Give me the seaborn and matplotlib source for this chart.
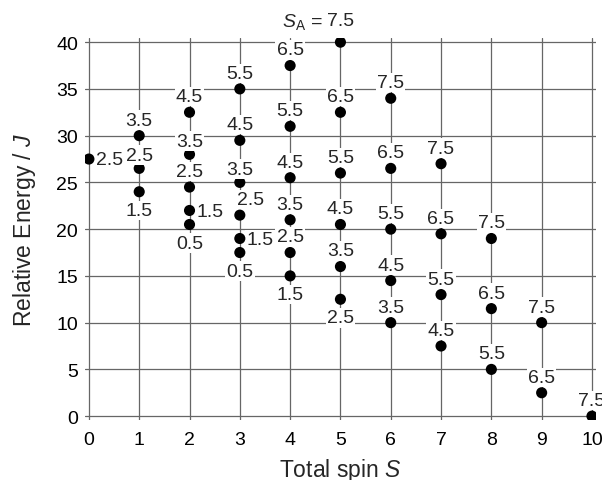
import matplotlib
matplotlib.use("Agg")
import matplotlib.pyplot as plt
import seaborn as sns
import pandas as pd

# ---- data ----
total_spin = [0,
              1, 1, 1,
              2, 2, 2, 2, 2,
              3, 3, 3, 3, 3, 3,
              4, 4, 4, 4, 4, 4,
              5, 5, 5, 5, 5, 5,
              6, 6, 6, 6, 6,
              7, 7, 7, 7,
              8, 8, 8,
              9, 9,
              10]
spin_a = [2.5,
          1.5, 2.5, 3.5,
          0.5, 1.5, 2.5, 3.5, 4.5,
          0.5, 1.5, 2.5, 3.5, 4.5, 5.5,
          1.5, 2.5, 3.5, 4.5, 5.5, 6.5,
          2.5, 3.5, 4.5, 5.5, 6.5, 7.5,
          3.5, 4.5, 5.5, 6.5, 7.5,
          4.5, 5.5, 6.5, 7.5,
          5.5, 6.5, 7.5,
          6.5, 7.5,
          7.5]
energy = [27.5,
          24, 26.5, 30,
          20.5, 22, 24.5, 28, 32.5,
          17.5, 19, 21.5, 25, 29.5, 35,
          15, 17.5, 21, 25.5, 31, 37.5,
          12.5, 16, 20.5, 26, 32.5, 40,
          10, 14.5, 20, 26.5, 34,
          7.5, 13, 19.5, 27,
          5, 11.5, 19,
          2.5, 10,
          0]
x_ticks = [0, 1, 2, 3, 4, 5, 6, 7, 8, 9, 10]
y_ticks = [0, 5, 10, 15, 20, 25, 30, 35, 40]
x_label = "Total spin $S$"
y_label = "Relative Energy / $J$"
top_prefix = "$S_{\\mathrm{A}}$ = "

# ---- layout of the value labels ----
# A=above, B=below, R=right, D=above-right, T=top label, C=above, close (covers dot)
label_pos = ["R",
             "B", "C", "A",
             "B", "R", "A", "C", "A",
             "B", "R", "D", "C", "A", "A",
             "B", "A", "A", "A", "A", "A",
             "B", "A", "A", "A", "A", "T",
             "A", "A", "A", "A", "A",
             "A", "A", "A", "A",
             "A", "A", "A",
             "A", "A",
             "A"]
offsets = {"A": (0, 11.2), "B": (0, -13.4), "R": (14.6, -0.5),
           "D": (7.4, 11.0), "T": (0, 15.5), "C": (0, 9.6)}

df = pd.DataFrame({"S": total_spin, "E": energy, "SA": spin_a})

sns.set_style("white")
plt.rcParams["font.family"] = ["Liberation Sans", "DejaVu Sans"]
plt.rcParams["mathtext.fontset"] = "custom"
plt.rcParams["mathtext.rm"] = "Liberation Sans"
plt.rcParams["mathtext.it"] = "Liberation Sans:italic"

fig = plt.figure(figsize=(6.02, 4.81), dpi=100)
ax = fig.add_axes([0.141, 0.125, 0.849, 0.793])

sns.scatterplot(data=df, x="S", y="E", ax=ax, color="black", s=64,
                edgecolor="none", linewidth=0, zorder=3, legend=False)

bbox = dict(boxstyle="square,pad=0.06", facecolor="white", edgecolor="none")
lab_fs = 14
for sx, e, sa, pos in zip(total_spin, energy, spin_a, label_pos):
    dx, dy = offsets[pos]
    txt = f"{sa:.1f}"
    if pos == "T":
        ax.annotate(txt, (sx, e), xytext=(dx, dy), textcoords="offset points",
                    ha="center", va="center", fontsize=lab_fs, bbox=bbox, zorder=2)
        ax.annotate(top_prefix, (sx, e), xytext=(dx - 12.5, dy), textcoords="offset points",
                    ha="right", va="center", fontsize=lab_fs, zorder=2)
        continue
    ax.annotate(txt, (sx, e), xytext=(dx, dy), textcoords="offset points",
                ha="center", va="center", fontsize=lab_fs, bbox=bbox,
                zorder=4 if pos == "C" else 2)

ax.set_xlim(-0.08, 10.08)
ax.set_ylim(-0.4, 40.4)
ax.set_xticks(x_ticks)
ax.set_yticks(y_ticks)
ax.grid(True, color="#666666", linewidth=0.9)
ax.set_axisbelow(True)
for sp in ax.spines.values():
    sp.set_visible(False)
ax.tick_params(axis="both", length=0, labelsize=14, colors="black")
ax.tick_params(axis="y", pad=5.0)
ax.tick_params(axis="x", pad=8.0)

ax.set_xlabel(x_label, fontsize=16.5)
ax.set_ylabel(y_label, fontsize=16.5)
ax.xaxis.set_label_coords(0.5, -0.13)
ax.xaxis.label.set_verticalalignment("center")
ax.yaxis.set_label_coords(-0.118, 0.5)
ax.yaxis.label.set_verticalalignment("center")

fig.savefig("out.png", dpi=100, facecolor="white")
